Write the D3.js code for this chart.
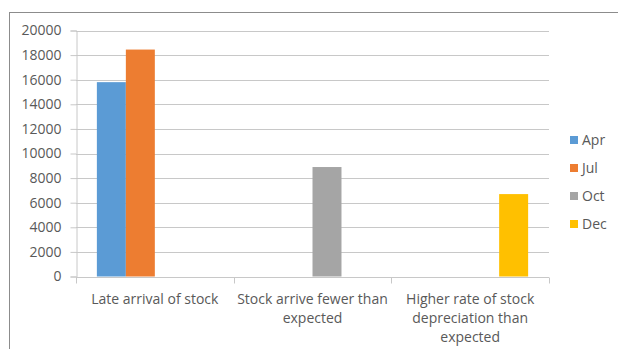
<!DOCTYPE html>
<html>
<head>
<meta charset="utf-8">
<script src="https://cdn.jsdelivr.net/npm/d3@7"></script>
<style>
  body { margin: 0; background: #fff; }
  text { font-family: "Open Sans", "Liberation Sans", sans-serif; fill: #595959; }
</style>
</head>
<body>
<div id="chart"></div>
<script>
// chart data
const categories = ["Late arrival of stock", "Stock arrive fewer than expected", "Higher rate of stock depreciation than expected"];
const seriesNames = ["Apr", "Jul", "Oct", "Dec"];
const seriesColors = ["#5B9BD5", "#ED7D31", "#A5A5A5", "#FFC000"];
// one value per category for each series (null = no bar)
const aprValues = [15800, null, null];
const julValues = [18450, null, null];
const octValues = [null, 8900, null];
const decValues = [null, null, 6700];
const yTicks = [0, 2000, 4000, 6000, 8000, 10000, 12000, 14000, 16000, 18000, 20000];

const seriesValues = [aprValues, julValues, octValues, decValues];

const width = 618, height = 349;
const margin = {top: 30.5, right: 69, bottom: 72.5, left: 76};

const svg = d3.select("#chart").append("svg")
    .attr("width", width)
    .attr("height", height);

// outer chart border
svg.append("rect")
    .attr("x", 9.5).attr("y", 12.5)
    .attr("width", 640).attr("height", 360)
    .attr("fill", "none")
    .attr("stroke", "#8c8c8c");

const x0 = d3.scaleBand()
    .domain(categories)
    .range([margin.left, width - margin.right]);

const x1 = d3.scaleBand()
    .domain(seriesNames)
    .range([0, x0.bandwidth()])
    .paddingOuter(0.72);

const y = d3.scaleLinear()
    .domain([0, 20000])
    .range([height - margin.bottom, margin.top]);

// gridlines
svg.append("g")
    .selectAll("line")
    .data(yTicks.slice(1))
    .join("line")
    .attr("x1", margin.left)
    .attr("x2", width - margin.right)
    .attr("y1", d => Math.round(y(d)) + 0.5)
    .attr("y2", d => Math.round(y(d)) + 0.5)
    .attr("stroke", "#c8c8c8");

// y axis
const yAxis = svg.append("g")
    .attr("transform", `translate(${margin.left + 0.5},0)`)
    .call(d3.axisLeft(y).tickValues(yTicks).tickSize(6).tickPadding(9).tickFormat(d3.format("d")));
yAxis.select(".domain").attr("stroke", "#c8c8c8");
yAxis.selectAll(".tick line").attr("stroke", "#c8c8c8");
yAxis.selectAll(".tick text").attr("font-size", 14).style("fill", "#595959");

// bars
const rows = categories.map((c, i) => ({cat: c, vals: seriesNames.map((s, j) => ({key: s, color: seriesColors[j], value: seriesValues[j][i]}))}));

svg.append("g")
    .selectAll("g")
    .data(rows)
    .join("g")
    .attr("transform", d => `translate(${x0(d.cat)},0)`)
    .selectAll("rect")
    .data(d => d.vals.filter(v => v.value != null))
    .join("rect")
    .attr("x", d => x1(d.key))
    .attr("width", x1.bandwidth())
    .attr("y", d => y(d.value))
    .attr("height", d => y(0) - y(d.value))
    .attr("fill", d => d.color);

// x axis
const xBase = Math.round(y(0)) + 0.5;
const xAxis = svg.append("g").attr("transform", `translate(0,${xBase})`);
xAxis.append("line")
    .attr("x1", margin.left).attr("x2", width - margin.right)
    .attr("stroke", "#c8c8c8");
const bounds = categories.map(c => x0(c)).concat([width - margin.right]);
xAxis.selectAll(".xtick")
    .data(bounds)
    .join("line")
    .attr("class", "xtick")
    .attr("x1", d => Math.round(d) + 0.5).attr("x2", d => Math.round(d) + 0.5)
    .attr("y1", 0).attr("y2", 6)
    .attr("stroke", "#c8c8c8");

// category labels, wrapped to the band width
const labels = xAxis.selectAll(".xlabel")
    .data(categories)
    .join("text")
    .attr("class", "xlabel")
    .attr("text-anchor", "middle")
    .attr("font-size", 14)
    .attr("x", d => x0(d) + x0.bandwidth() / 2)
    .attr("y", 26);

labels.each(function (d) {
    const t = d3.select(this);
    const words = d.split(" ");
    const cx = x0(d) + x0.bandwidth() / 2;
    let line = [];
    let tspan = t.append("tspan").attr("x", cx).attr("dy", 0);
    words.forEach(w => {
        line.push(w);
        tspan.text(line.join(" "));
        if (tspan.node().getComputedTextLength() > x0.bandwidth() - 2 && line.length > 1) {
            line.pop();
            tspan.text(line.join(" "));
            line = [w];
            tspan = t.append("tspan").attr("x", cx).attr("dy", 19).text(w);
        }
    });
});

// legend
const legend = svg.append("g")
    .attr("transform", "translate(570,140)");

const items = legend.selectAll("g")
    .data(seriesNames)
    .join("g")
    .attr("transform", (d, i) => `translate(0,${i * 28})`);

items.append("rect")
    .attr("x", 0).attr("y", -4)
    .attr("width", 8).attr("height", 8)
    .attr("fill", (d, i) => seriesColors[i]);

items.append("text")
    .attr("x", 12)
    .attr("y", 5)
    .attr("font-size", 14)
    .text(d => d);
</script>
</body>
</html>
